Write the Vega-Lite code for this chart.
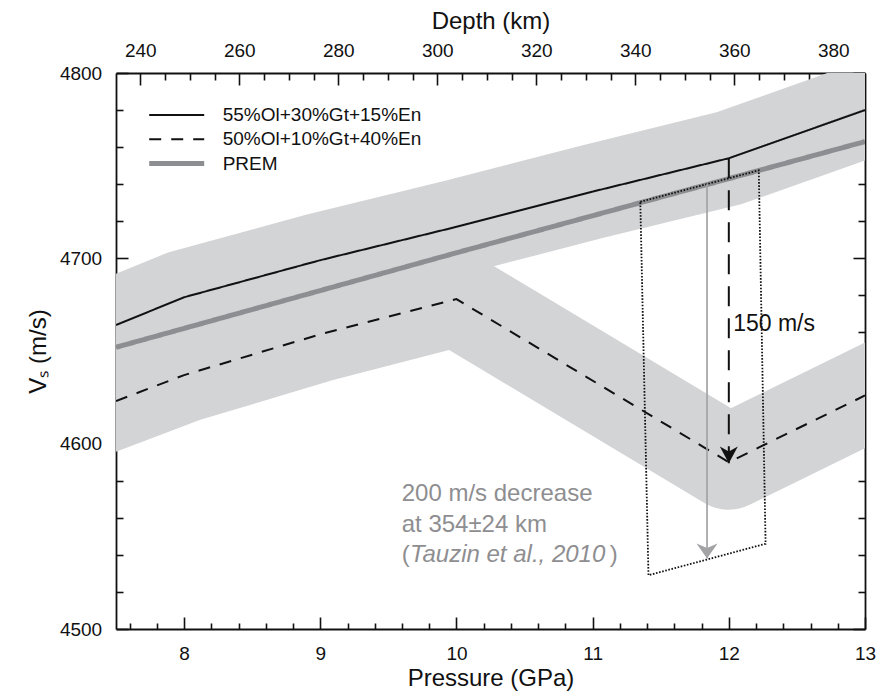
{
  "$schema": "https://vega.github.io/schema/vega-lite/v6.json",
  "width": 749,
  "height": 556,
  "autosize": {"type": "none"},
  "padding": {"left": 116, "top": 73, "right": 25, "bottom": 63},
  "background": "white",
  "config": {
    "view": {"stroke": null},
    "font": "Liberation Sans",
    "axis": {
      "domainColor": "#111111",
      "domainWidth": 1.8,
      "tickColor": "#111111",
      "tickWidth": 1.6,
      "labelFont": "Liberation Sans",
      "labelFontSize": 19,
      "labelColor": "#111111",
      "titleFont": "Liberation Sans",
      "titleFontSize": 24,
      "titleFontWeight": "normal",
      "titleColor": "#111111",
      "grid": false,
      "labelOverlap": false,
      "labelFlush": false
    },
    "legend": {
      "orient": "none",
      "legendX": 30.7,
      "legendY": 32,
      "symbolType": "stroke",
      "symbolSize": 3025,
      "clipHeight": 20,
      "labelFont": "Liberation Sans",
      "labelFontSize": 19,
      "labelColor": "#111111",
      "labelOffset": 16,
      "labelLimit": 500,
      "rowPadding": 4.3,
      "padding": 0
    }
  },
  "datasets": {
    "lines": [
      {"series": "55%Ol+30%Gt+15%En", "P": 7.5, "V": 4664},
      {"series": "55%Ol+30%Gt+15%En", "P": 8, "V": 4679},
      {"series": "55%Ol+30%Gt+15%En", "P": 9, "V": 4699},
      {"series": "55%Ol+30%Gt+15%En", "P": 10, "V": 4717},
      {"series": "55%Ol+30%Gt+15%En", "P": 11, "V": 4736},
      {"series": "55%Ol+30%Gt+15%En", "P": 12, "V": 4754},
      {"series": "55%Ol+30%Gt+15%En", "P": 13, "V": 4780},
      {"series": "50%Ol+10%Gt+40%En", "P": 7.5, "V": 4623},
      {"series": "50%Ol+10%Gt+40%En", "P": 8, "V": 4637},
      {"series": "50%Ol+10%Gt+40%En", "P": 9, "V": 4659},
      {"series": "50%Ol+10%Gt+40%En", "P": 10, "V": 4678},
      {"series": "50%Ol+10%Gt+40%En", "P": 12, "V": 4590},
      {"series": "50%Ol+10%Gt+40%En", "P": 13, "V": 4626},
      {"series": "PREM", "P": 7.5, "V": 4652},
      {"series": "PREM", "P": 10, "V": 4703},
      {"series": "PREM", "P": 13, "V": 4763}
    ],
    "box": [
      {"i": 0, "P": 11.35, "V": 4730.5},
      {"i": 1, "P": 12.22, "V": 4747.5},
      {"i": 2, "P": 12.27, "V": 4546},
      {"i": 3, "P": 11.41, "V": 4529},
      {"i": 4, "P": 11.35, "V": 4730.5}
    ],
    "arrows": [
      {"kind": "Tauzin", "P": 11.84, "top": 4740, "tip": 4538},
      {"kind": "model", "P": 12, "top": 4754, "tip": 4589.5}
    ],
    "notes": [
      {"kind": "model", "part": "plain", "P": 12.032, "V": 4660.8, "text": "150 m/s"},
      {"kind": "Tauzin", "part": "plain", "P": 9.598, "V": 4569.1, "text": "200 m/s decrease"},
      {"kind": "Tauzin", "part": "plain", "P": 9.598, "V": 4552.5, "text": "at 354±24 km"},
      {"kind": "Tauzin", "part": "plain", "P": 9.598, "V": 4536.3, "text": "("},
      {"kind": "Tauzin", "part": "ref", "P": 9.659, "V": 4536.3, "text": "Tauzin et al., 2010"},
      {"kind": "Tauzin", "part": "plain", "P": 11.126, "V": 4536.3, "text": ")"}
    ]
  },
  "layer": [
    {
      "layer": [
        {
          "data": {"name": "lines"},
          "transform": [{"filter": "datum.series !== 'PREM'"}],
          "mark": {"type": "line", "stroke": "#d3d4d6", "strokeWidth": 95, "strokeJoin": "round", "strokeCap": "square", "clip": true},
          "encoding": {
            "x": {
              "field": "P", "type": "quantitative",
              "scale": {"domain": [7.5, 13], "nice": false, "zero": false},
              "axis": {
                "orient": "bottom",
                "values": [8, 9, 10, 11, 12, 13],
                "format": "d",
                "ticks": false,
                "labelPadding": 15.2,
                "title": "Pressure (GPa)",
                "titleBaseline": "alphabetic",
                "titleY": 56
              }
            },
            "y": {
              "field": "V", "type": "quantitative",
              "scale": {"domain": [4500, 4800], "nice": false, "zero": false},
              "axis": {
                "orient": "left",
                "values": [4500, 4600, 4700, 4800],
                "format": "d",
                "ticks": false,
                "labelPadding": 14.3,
                "title": "Vₛ (m/s)",
                "titlePadding": 9
              }
            },
            "detail": {"field": "series", "type": "nominal"}
          }
        },
        {
          "data": {"name": "lines"},
          "mark": {"type": "line", "clip": true},
          "encoding": {
            "x": {
              "field": "P", "type": "quantitative",
              "axis": {"orient": "bottom", "values": [8, 9, 10, 11, 12, 13], "labels": false, "domain": false, "tickSize": 12, "offset": -12, "title": null}
            },
            "y": {
              "field": "V", "type": "quantitative",
              "axis": {"orient": "left", "values": [4500, 4600, 4700, 4800], "labels": false, "domain": false, "tickSize": 12, "offset": -12, "title": null}
            },
            "color": {
              "field": "series", "type": "nominal",
              "scale": {"domain": ["55%Ol+30%Gt+15%En", "50%Ol+10%Gt+40%En", "PREM"], "range": ["#111111", "#111111", "#8d8e91"]},
              "legend": {"title": null}
            },
            "strokeDash": {
              "field": "series", "type": "nominal",
              "scale": {"domain": ["55%Ol+30%Gt+15%En", "50%Ol+10%Gt+40%En", "PREM"], "range": [[1, 0], [12, 10], [1, 0]]},
              "legend": {"title": null}
            },
            "strokeWidth": {
              "field": "series", "type": "nominal",
              "scale": {"type": "ordinal", "domain": ["55%Ol+30%Gt+15%En", "50%Ol+10%Gt+40%En", "PREM"], "range": [2, 2, 5]},
              "legend": {"title": null}
            }
          }
        },
        {
          "data": {"name": "box"},
          "mark": {"type": "line", "stroke": "#111111", "strokeWidth": 1.8, "strokeDash": [1.6, 1.6]},
          "encoding": {
            "x": {
              "field": "P", "type": "quantitative",
              "axis": {
                "orient": "bottom",
                "values": [7.6, 7.8, 8.2, 8.4, 8.6, 8.8, 9.2, 9.4, 9.6, 9.8, 10.2, 10.4, 10.6, 10.8, 11.2, 11.4, 11.6, 11.8, 12.2, 12.4, 12.6, 12.8],
                "labels": false, "domain": false, "tickSize": 6, "offset": -6, "title": null
              }
            },
            "y": {
              "field": "V", "type": "quantitative",
              "axis": {
                "orient": "left",
                "values": [4520, 4540, 4560, 4580, 4620, 4640, 4660, 4680, 4720, 4740, 4760, 4780],
                "labels": false, "domain": false, "tickSize": 7, "offset": -7, "title": null
              }
            },
            "order": {"field": "i", "type": "quantitative"}
          }
        },
        {
          "data": {"name": "arrows"},
          "transform": [{"filter": "datum.kind === 'Tauzin'"}],
          "mark": {"type": "rule", "stroke": "#a3a3a6", "strokeWidth": 1.7},
          "encoding": {
            "x": {"field": "P", "type": "quantitative", "axis": null},
            "y": {
              "field": "top", "type": "quantitative",
              "axis": {"orient": "right", "values": [4500, 4800], "labels": false, "ticks": false, "domain": true, "title": null}
            },
            "y2": {"field": "tip"}
          }
        },
        {
          "data": {"name": "arrows"},
          "transform": [{"filter": "datum.kind === 'model'"}],
          "mark": {"type": "rule", "stroke": "#111111", "strokeWidth": 2, "strokeDash": [20, 12]},
          "encoding": {
            "x": {"field": "P", "type": "quantitative", "axis": null},
            "y": {
              "field": "top", "type": "quantitative",
              "axis": {"orient": "right", "values": [4500, 4600, 4700, 4800], "labels": false, "domain": false, "tickSize": 12, "offset": -12, "title": null}
            },
            "y2": {"field": "tip"}
          }
        },
        {
          "data": {"name": "arrows"},
          "transform": [{"filter": "datum.kind === 'Tauzin'"}],
          "mark": {"type": "point", "filled": true, "color": "#a3a3a6", "opacity": 1, "size": 441, "shape": "M0,0 L-1,-1.43 L0,-1 L1,-1.43 Z"},
          "encoding": {
            "x": {"field": "P", "type": "quantitative", "axis": null},
            "y": {
              "field": "tip", "type": "quantitative",
              "axis": {
                "orient": "right",
                "values": [4520, 4540, 4560, 4580, 4620, 4640, 4660, 4680, 4720, 4740, 4760, 4780],
                "labels": false, "domain": false, "tickSize": 7, "offset": -7, "title": null
              }
            }
          }
        },
        {
          "data": {"name": "arrows"},
          "transform": [{"filter": "datum.kind === 'model'"}],
          "mark": {"type": "point", "filled": true, "color": "#111111", "opacity": 1, "size": 324, "shape": "M0,0 L-1,-1.85 L0,-1.3 L1,-1.85 Z"},
          "encoding": {
            "x": {"field": "P", "type": "quantitative", "axis": null},
            "y": {"field": "tip", "type": "quantitative", "axis": null}
          }
        },
        {
          "data": {"name": "notes"},
          "transform": [{"filter": "datum.kind === 'model'"}],
          "mark": {"type": "text", "align": "left", "baseline": "alphabetic", "font": "Liberation Sans", "fontSize": 23, "color": "#111111"},
          "encoding": {
            "x": {"field": "P", "type": "quantitative", "axis": null},
            "y": {"field": "V", "type": "quantitative", "axis": null},
            "text": {"field": "text"}
          }
        },
        {
          "data": {"name": "notes"},
          "transform": [{"filter": "datum.kind === 'Tauzin' && datum.part === 'plain'"}],
          "mark": {"type": "text", "align": "left", "baseline": "alphabetic", "font": "Liberation Sans", "fontSize": 24, "color": "#8e8e91"},
          "encoding": {
            "x": {"field": "P", "type": "quantitative", "axis": null},
            "y": {"field": "V", "type": "quantitative", "axis": null},
            "text": {"field": "text"}
          }
        },
        {
          "data": {"name": "notes"},
          "transform": [{"filter": "datum.part === 'ref'"}],
          "mark": {"type": "text", "align": "left", "baseline": "alphabetic", "font": "Liberation Sans", "fontSize": 24, "fontStyle": "italic", "color": "#8e8e91"},
          "encoding": {
            "x": {"field": "P", "type": "quantitative", "axis": null},
            "y": {"field": "V", "type": "quantitative", "axis": null},
            "text": {"field": "text"}
          }
        }
      ],
      "resolve": {"axis": {"x": "independent", "y": "independent"}}
    },
    {
      "data": {"values": [{"depth": 240}, {"depth": 380}]},
      "mark": {"type": "point", "opacity": 0},
      "encoding": {
        "x": {
          "field": "depth", "type": "quantitative",
          "scale": {"domain": [235.1, 386.4], "nice": false, "zero": false},
          "axis": {
            "orient": "top",
            "values": [240, 260, 280, 300, 320, 340, 360, 380],
            "format": "d",
            "ticks": false,
            "labelPadding": 13,
            "title": "Depth (km)",
            "titlePadding": 8
          }
        }
      }
    },
    {
      "data": {"values": [{"depth": 240}, {"depth": 380}]},
      "mark": {"type": "point", "opacity": 0},
      "encoding": {
        "x": {
          "field": "depth", "type": "quantitative",
          "scale": {"domain": [235.1, 386.4], "nice": false, "zero": false},
          "axis": {"orient": "top", "values": [240, 260, 280, 300, 320, 340, 360, 380], "labels": false, "domain": false, "tickSize": 12, "offset": -12, "title": null}
        }
      }
    },
    {
      "data": {"values": [{"depth": 240}, {"depth": 380}]},
      "mark": {"type": "point", "opacity": 0},
      "encoding": {
        "x": {
          "field": "depth", "type": "quantitative",
          "scale": {"domain": [235.1, 386.4], "nice": false, "zero": false},
          "axis": {
            "orient": "top",
            "values": [245, 250, 255, 265, 270, 275, 285, 290, 295, 305, 310, 315, 325, 330, 335, 345, 350, 355, 365, 370, 375, 385],
            "labels": false, "domain": false, "tickSize": 7, "offset": -7, "title": null
          }
        }
      }
    }
  ],
  "resolve": {"scale": {"x": "independent"}, "axis": {"x": "independent"}}
}
